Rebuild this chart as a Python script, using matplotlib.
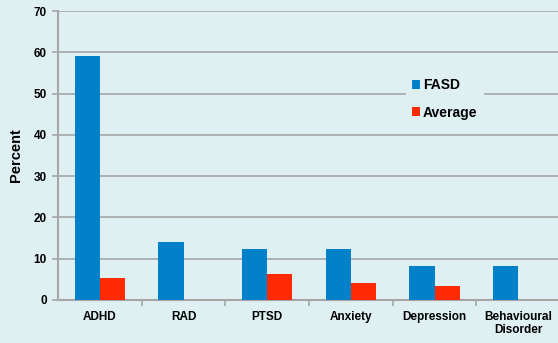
import numpy as np
import matplotlib.pyplot as plt
from matplotlib.ticker import FixedLocator

categories = ["ADHD", "RAD", "PTSD", "Anxiety", "Depression", "Behavioural\nDisorder"]
fasd = [59.2, 14.1, 12.3, 12.3, 8.2, 8.2]
average = [5.4, 0, 6.4, 4.2, 3.4, 0]

bg = "#dff0f2"
plt.rcParams["font.family"] = ["Liberation Sans", "DejaVu Sans"]
plt.rcParams["font.weight"] = "bold"

fig = plt.figure(figsize=(5.58, 3.43), dpi=100, facecolor=bg)
ax = fig.add_axes([58 / 558, 43 / 343, 502 / 558, 289 / 343], facecolor=bg)

x = np.arange(len(categories))
w = 0.3
ax.bar(x - w / 2, fasd, w, color="#0081c9", label="FASD", zorder=3)
ax.bar(x + w / 2, average, w, color="#ff2a00", label="Average", zorder=3)

ax.set_xlim(-0.5, len(categories) - 0.5)
ax.set_ylim(0, 70)
ax.set_yticks(range(0, 71, 10))
ax.yaxis.grid(True, color="#a6a6a6", linewidth=1.2, zorder=0)

ax.set_xticks(x)
ax.set_xticklabels(categories, fontsize=8.5, fontweight="bold", linespacing=1.1)
ax.tick_params(axis="x", length=0, pad=8)
ax.xaxis.set_minor_locator(FixedLocator(x[:-1] + 0.5))
ax.tick_params(axis="x", which="minor", length=4, color="#a6a6a6", width=1.2)
ax.tick_params(axis="y", length=4, color="#a6a6a6", width=1.2, labelsize=8.5, pad=4)
for lab in ax.get_yticklabels():
    lab.set_fontweight("bold")

for s in ["top", "right"]:
    ax.spines[s].set_visible(False)
for s in ["left", "bottom"]:
    ax.spines[s].set_color("#a6a6a6")
    ax.spines[s].set_linewidth(1.5)

ax.set_ylabel("Percent", fontsize=10.5, fontweight="bold", labelpad=8)

leg = ax.legend(loc="upper left", bbox_to_anchor=(0.68, 0.81), frameon=True,
                fontsize=10, handlelength=0.6, handleheight=0.6, handletextpad=0.2,
                labelspacing=0.95, borderpad=0.4)
leg.get_frame().set_facecolor(bg)
leg.get_frame().set_edgecolor(bg)
leg.get_frame().set_alpha(1)
leg.get_frame().set_boxstyle("square", pad=0)
for t in leg.get_texts():
    t.set_fontweight("bold")

fig.savefig("out.png", dpi=100, facecolor=bg)
